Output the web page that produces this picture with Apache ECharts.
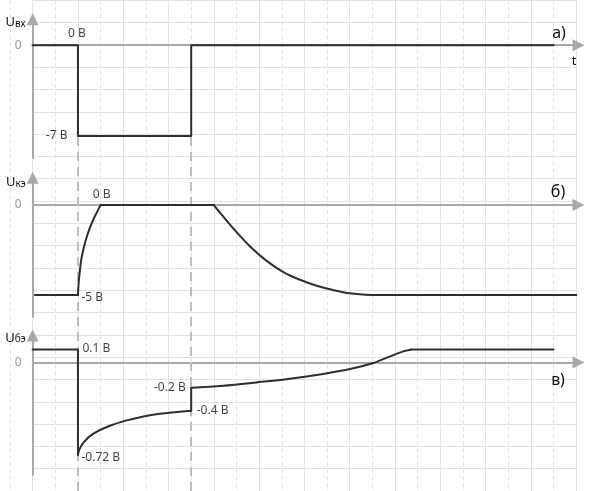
<!DOCTYPE html>
<html><head><meta charset="utf-8">
<script src="https://cdn.jsdelivr.net/npm/echarts@6/dist/echarts.min.js"></script>
<style>html,body{margin:0;padding:0;background:#fff}#c{width:593px;height:491px}</style>
</head><body><div id="c"></div>
<script>
// ---- data (time in grid units, voltages in volts) ----
// a) input voltage
const t_vx = [0, 2, 2, 7, 7, 23];
const u_vx = [0, 0, -7, -7, 0, 0];
// б) collector-emitter voltage
const t_ke = [0.1, 2, 2.04, 2.09, 2.15, 2.25, 2.38, 2.53, 2.68, 2.83, 2.93, 3, 8, 8.4, 8.86, 9.6, 10.33, 11.07, 11.8, 12.54, 13.27, 14.01, 15, 24];
const u_ke = [-5, -5, -4.2, -3.6, -3.0, -2.4, -1.8, -1.25, -0.8, -0.42, -0.17, 0, 0, -0.62, -1.3, -2.3, -3.1, -3.72, -4.15, -4.48, -4.72, -4.9, -5, -5];
// в) base-emitter voltage
const t_be = [0, 2, 2, 2.05, 2.24, 2.68, 3.41, 4.15, 4.89, 5.62, 6.36, 7, 7, 8.42, 9.89, 11.36, 12.83, 14.01, 15.04, 15.78, 16.36, 16.73, 23];
const u_be = [0.1, 0.1, -0.72, -0.685, -0.625, -0.556, -0.494, -0.452, -0.421, -0.4, -0.387, -0.377, -0.197, -0.182, -0.156, -0.127, -0.09, -0.052, -0.005, 0.047, 0.086, 0.1, 0.1];
// index ranges of the curved (exponential) parts of each trace
const curves_vx = [];
const curves_ke = [[1, 11], [12, 22]];
const curves_be = [[2, 11], [12, 21]];
// switching instants
const switchTimes = [2, 7];
// annotations [t, value, text]
const notes_vx = [[2, 0, '0 В'], [2, -7, '-7 В']];
const notes_ke = [[3, 0, '0 В'], [2, -5, '-5 В']];
const notes_be = [[2, 0.1, '0.1 В'], [2, -0.72, '-0.72 В'], [7, -0.197, '-0.2 В'], [7, -0.377, '-0.4 В']];
// axis texts
const axisSubs = ['вх', 'кэ', 'бэ'];
const panelTags = ['а)', 'б)', 'в)'];
const zeroTicks = [0];
const timeName = 't';

// ---- layout ----
const U = 22.65;           // background cell size
const LEFT0 = 32.65;       // x of t = 0
const TMAX = 24.1;
const FONT = 'Noto Sans';
const AX = '#a8a8a8';
const INK = '#2e2e2e';

const zip = (t, v) => t.map((x, i) => [x, v[i]]);

function pieces(data, curves) {
  const out = [];
  let start = 0;
  curves.forEach(([a, b]) => {
    if (a > start) out.push({data: data.slice(start, a + 1), smooth: false});
    out.push({data: data.slice(a, b + 1), smooth: true});
    start = b;
  });
  if (start < data.length - 1) out.push({data: data.slice(start), smooth: false});
  return out;
}

const panels = [
  {top: 19.3, height: 138.7, min: -8.7, max: 2.0, t: t_vx, v: u_vx, curves: curves_vx, notes: notes_vx, gap: -3,
   place: [{position: 'top', distance: 5, offset: [-1, 0]}, {position: 'left', distance: 10}]},
  {top: 177.7, height: 139, min: -6.2, max: 1.52, t: t_ke, v: u_ke, curves: curves_ke, notes: notes_ke, gap: -4.5,
   place: [{position: 'top', distance: 4, offset: [1, 0]}, {position: 'right', distance: 3, offset: [0, 2.5]}]},
  {top: 335.5, height: 139.5, min: -0.878, max: 0.21, t: t_be, v: u_be, curves: curves_be, notes: notes_be, gap: -2.5,
   place: [{position: 'right', distance: 4, offset: [0, -1]}, {position: 'right', distance: 3, offset: [0, 2.5]},
           {position: 'left', distance: 5, offset: [0, -0.5]}, {position: 'right', distance: 5}]}
];

const grid = [
  {left: LEFT0, top: 0.3, width: 24 * U, height: 22 * U, show: false},   // 0 bg solid
  {left: LEFT0 - U, top: 0.3, width: 24 * U, height: 22 * U, show: false}, // 1 bg dashed
  {left: LEFT0, top: 136.5, width: TMAX * U, bottom: -4, show: false}     // 2 guides
];
const xAxis = [
  {gridIndex: 0, type: 'value', min: 0, max: 24, interval: 2, z: 0,
   axisLine: {show: false}, axisTick: {show: false}, axisLabel: {show: false},
   splitLine: {show: true, lineStyle: {color: '#e2e2e2', width: 1}}},
  {gridIndex: 1, type: 'value', min: 0, max: 24, interval: 2, z: 0,
   axisLine: {show: false}, axisTick: {show: false}, axisLabel: {show: false},
   splitLine: {show: true, lineStyle: {color: '#e2e2e2', width: 1, type: [4, 3]}}},
  {gridIndex: 2, type: 'value', min: 0, max: TMAX, show: false}
];
const yAxis = [
  {gridIndex: 0, type: 'value', min: 0, max: 22, interval: 1, inverse: true, z: 0,
   axisLine: {show: false}, axisTick: {show: false}, axisLabel: {show: false},
   splitLine: {show: true, lineStyle: {color: '#e2e2e2', width: 1}}},
  {gridIndex: 1, type: 'value', min: 0, max: 22, show: false},
  {gridIndex: 2, type: 'value', min: 0, max: 1, show: false}
];
const series = [
  {type: 'line', xAxisIndex: 2, yAxisIndex: 2, data: [], z: 1, silent: true,
   markLine: {silent: true, symbol: ['none', 'none'], label: {show: false},
     lineStyle: {color: '#bdbdbd', width: 2, type: [9, 6]},
     data: switchTimes.map(t => ({xAxis: t}))}}
];

panels.forEach((p, i) => {
  const gi = grid.length;
  grid.push({left: LEFT0, top: p.top, width: TMAX * U, height: p.height, show: false});
  xAxis.push({gridIndex: gi, type: 'value', min: 0, max: TMAX, z: 3,
    axisLine: {show: true, onZero: true, symbol: ['none', 'triangle'], symbolSize: [12, 12],
      lineStyle: {color: AX, width: 2}},
    axisTick: {show: false}, axisLabel: {show: false}, splitLine: {show: false},
    name: i === 0 ? timeName : '', nameLocation: 'end', nameGap: -4.5,
    nameTextStyle: {align: 'center', verticalAlign: 'top', padding: [10, 0, 0, 0],
      fontFamily: FONT, fontSize: 13, color: '#111'}});
  yAxis.push({gridIndex: gi, type: 'value', min: p.min, max: p.max, z: 3,
    axisLine: {show: true, symbol: ['none', 'triangle'], symbolSize: [12, 12],
      lineStyle: {color: AX, width: 2}},
    axisTick: {show: false}, splitLine: {show: false},
    axisLabel: {show: true, customValues: zeroTicks, margin: 11, color: '#9a9a9a',
      fontFamily: FONT, fontSize: 12},
    name: '{u|U}{s|' + axisSubs[i] + '}', nameLocation: 'end', nameGap: p.gap,
    nameTextStyle: {align: 'right', verticalAlign: 'middle', padding: [0, 7, 0, 0],
      rich: {u: {fontFamily: FONT, fontSize: 13, color: '#111', verticalAlign: 'bottom'},
             s: {fontFamily: FONT, fontSize: 10, color: '#111', verticalAlign: 'bottom'}}}});
  pieces(zip(p.t, p.v), p.curves).forEach(pc => {
    series.push({type: 'line', xAxisIndex: gi, yAxisIndex: gi, data: pc.data,
      smooth: pc.smooth ? 0.35 : false,
      showSymbol: false, symbol: 'none', z: 5, silent: true,
      lineStyle: {color: INK, width: 2, cap: 'round', join: 'round'}});
  });
  series.push({type: 'scatter', xAxisIndex: gi, yAxisIndex: gi, z: 6, silent: true,
    symbolSize: 1, itemStyle: {color: 'rgba(0,0,0,0)'},
    data: p.notes.map((n, k) => ({value: [n[0], n[1]],
      label: Object.assign({show: true, formatter: n[2], fontFamily: FONT, fontSize: 12, color: '#111'}, p.place[k])}))});
});

const tagPos = [[559, 33], [558, 192], [558, 380]];
const chart = echarts.init(document.getElementById('c'), null, {renderer: 'canvas'});
chart.setOption({
  animation: false,
  backgroundColor: '#ffffff',
  grid, xAxis, yAxis, series,
  graphic: panelTags.map((s, i) => ({type: 'text', x: tagPos[i][0], y: tagPos[i][1], z: 10,
    style: {text: s, font: '16px "Noto Sans"', fill: '#111', align: 'center', verticalAlign: 'middle'}}))
});
</script></body></html>
